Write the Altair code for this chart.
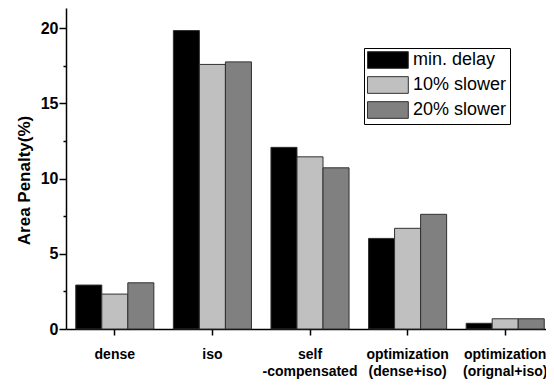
import altair as alt
import pandas as pd

categories = ["dense", "iso", "self\n-compensated", "optimization\n(dense+iso)", "optimization\n(orignal+iso)"]
series = ["min. delay", "10% slower", "20% slower"]
min_delay = [2.92, 19.83, 12.07, 6.02, 0.38]
slower_10 = [2.32, 17.58, 11.44, 6.69, 0.68]
slower_20 = [3.07, 17.75, 10.71, 7.62, 0.68]
colors = ["#000000", "#c0c0c0", "#808080"]
y_ticks = [0, 2.5, 5, 7.5, 10, 12.5, 15, 17.5, 20]

rows = []
for i, c in enumerate(categories):
    for s, vals in zip(series, [min_delay, slower_10, slower_20]):
        rows.append({"cat": c, "series": s, "value": vals[i]})
df = pd.DataFrame(rows)

FONT = "Liberation Sans, Arial, sans-serif"

bars = alt.Chart(df).mark_bar(stroke="#303030", strokeWidth=1).encode(
    x=alt.X(
        "cat:N",
        sort=categories,
        scale=alt.Scale(paddingInner=0.2, paddingOuter=0.1, range=[0, 488]),
        axis=alt.Axis(
            title=None,
            labelAngle=0,
            labelFont=FONT,
            labelFontSize=14,
            labelFontWeight="bold",
            labelColor="#000",
            labelBaseline="top",
            labelPadding=12,
            labelLineHeight=17,
            labelExpr="split(datum.label, '\\n')",
            tickSize=6,
            tickWidth=1.5,
            tickColor="#000",
            domainColor="#000",
            domainWidth=1.5,
            grid=False,
        ),
    ),
    xOffset=alt.XOffset("series:N", sort=series),
    y=alt.Y(
        "value:Q",
        scale=alt.Scale(domain=[0, 21.33], nice=False, zero=True),
        axis=alt.Axis(
            title="Area Penalty(%)",
            titleFont=FONT,
            titleFontSize=17,
            titleFontWeight="bold",
            titleColor="#000",
            titleX=-33,
            titleY=172,
            values=y_ticks,
            labelExpr="datum.value % 5 === 0 ? datum.label : ''",
            labelFont=FONT,
            labelFontSize=16,
            labelFontWeight="bold",
            labelColor="#000",
            labelPadding=1,
            tickSize={"condition": {"test": "datum.value % 5 === 0", "value": 7}, "value": 3},
            tickWidth=1.5,
            tickColor="#000",
            domainColor="#000",
            domainWidth=1.5,
            grid=False,
        ),
    ),
    color=alt.Color(
        "series:N",
        sort=series,
        scale=alt.Scale(domain=series, range=colors),
        legend=alt.Legend(
            title=None,
            orient="none",
            legendX=298,
            legendY=40,
            symbolType="M-1,-0.98H3.8V0.98H-1Z",
            symbolSize=289,
            symbolStrokeColor="#303030",
            symbolStrokeWidth=1,
            labelFont=FONT,
            labelFontSize=18,
            labelColor="#000",
            labelOffset=28,
            rowPadding=3,
            padding=3,
            strokeColor="#000",
            fillColor="#fff",
        ),
    ),
).properties(width=480, height=321)

chart = bars.properties(
    autosize=alt.AutoSizeParams(type="none"),
    padding={"left": 58, "top": 0, "right": 0, "bottom": 55},
).configure_view(stroke=None).configure_legend(symbolOpacity=1)

chart.save("out.html", embed_options={"renderer": "svg", "actions": False})
